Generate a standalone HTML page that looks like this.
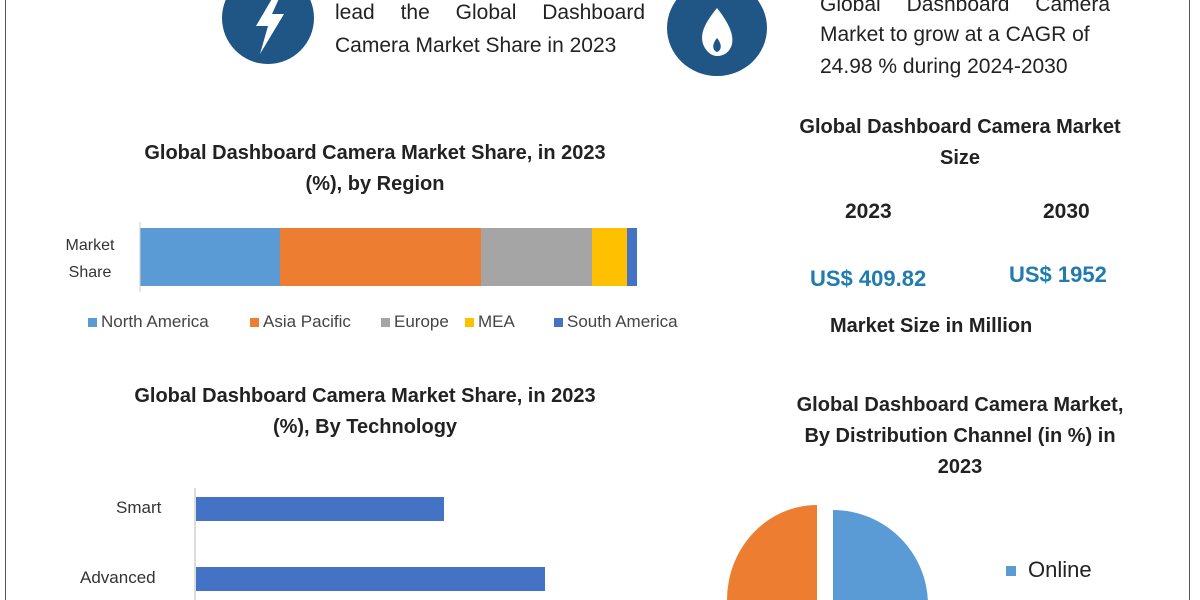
<!DOCTYPE html>
<html><head><style>
body{margin:0;width:1200px;height:600px;background:#fff;overflow:hidden;position:relative;font-family:"Liberation Sans",sans-serif;}
.a{position:absolute;white-space:nowrap;}
.t{font-weight:bold;font-size:20px;color:#222;text-align:center;line-height:31px;}
.n{font-family:"Liberation Sans Narrow","Liberation Sans",sans-serif;font-size:21px;color:#222;}
</style></head><body>
<div class="a" style="left:5px;top:0;width:1px;height:600px;background:#555"></div>
<div class="a" style="left:1189px;top:0;width:1px;height:600px;background:#555"></div>
<svg class="a" style="left:0;top:0" width="1200" height="600">
<ellipse cx="268" cy="18" rx="46" ry="46" fill="#1f5686"/>
<path d="M276 -8 L256 26 L268 26 L260 54 L284 14 L272 14 L282 -8Z" fill="#fff"/>
<ellipse cx="717" cy="28" rx="50" ry="48" fill="#1f5686"/>
<path d="M717 8 C704 24 700 34 703 44 C706 52 712 56 717 56 C724 56 730 52 732 44 C734 34 728 22 717 8Z" fill="#fff"/>
<path d="M717 38 C712 44 712 50 717 52 C722 50 722 44 717 38Z" fill="#1f5686"/>
<rect x="140" y="228" width="140" height="58" fill="#5b9bd5"/>
<rect x="280" y="228" width="201" height="58" fill="#ed7d31"/>
<rect x="481" y="228" width="111" height="58" fill="#a5a5a5"/>
<rect x="592" y="228" width="35" height="58" fill="#ffc000"/>
<rect x="627" y="228" width="10" height="58" fill="#4472c4"/>
<line x1="140" y1="222" x2="140" y2="292" stroke="#ccc"/>
<rect x="88" y="318" width="9" height="9" fill="#5b9bd5"/>
<rect x="250" y="318" width="9" height="9" fill="#ed7d31"/>
<rect x="381" y="318" width="9" height="9" fill="#a5a5a5"/>
<rect x="465" y="318" width="9" height="9" fill="#ffc000"/>
<rect x="554" y="318" width="9" height="9" fill="#4472c4"/>
<line x1="195" y1="488" x2="195" y2="600" stroke="#bbb"/>
<rect x="196" y="497" width="248" height="24" fill="#4472c4"/>
<rect x="196" y="567" width="349" height="24" fill="#4472c4"/>
<path d="M833 605 L833 510 A95 95 0 0 1 928 605 Z" fill="#5b9bd5"/>
<path d="M817 600 L817 505 A90 95 0 0 0 727 600 Z" fill="#ed7d31"/>
<rect x="1006" y="566" width="10" height="10" fill="#5b9bd5"/>
</svg>
<div class="a n" style="left:335px;top:1px;width:310px;text-align:justify;text-align-last:justify">lead the Global Dashboard</div>
<div class="a n" style="left:335px;top:34px">Camera Market Share in 2023</div>
<div class="a n" style="left:820px;top:-7px;width:290px;text-align:justify;text-align-last:justify">Global Dashboard Camera</div>
<div class="a n" style="left:820px;top:23px">Market to grow at a CAGR of</div>
<div class="a n" style="left:820px;top:55px">24.98 % during 2024-2030</div>
<div class="a t" style="left:100px;top:138px;width:550px">Global Dashboard Camera Market Share, in 2023<br>(%), by Region</div>
<div class="a" style="left:50px;top:232px;width:80px;text-align:center;font-size:16px;line-height:27px;color:#333">Market<br>Share</div>
<div class="a" style="left:101px;top:312px;font-size:17px;color:#444">North America</div>
<div class="a" style="left:263px;top:312px;font-size:17px;color:#444">Asia Pacific</div>
<div class="a" style="left:394px;top:312px;font-size:17px;color:#444">Europe</div>
<div class="a" style="left:478px;top:312px;font-size:17px;color:#444">MEA</div>
<div class="a" style="left:567px;top:312px;font-size:17px;color:#444">South America</div>
<div class="a t" style="left:740px;top:112px;width:440px">Global Dashboard Camera Market<br>Size</div>
<div class="a t" style="left:845px;top:196px;font-size:21px">2023</div>
<div class="a t" style="left:1043px;top:196px;font-size:21px">2030</div>
<div class="a" style="left:810px;top:266px;font-size:22px;font-weight:bold;color:#1f7bb0">US$ 409.82</div>
<div class="a" style="left:1009px;top:262px;font-size:22px;font-weight:bold;color:#1f7bb0">US$ 1952</div>
<div class="a t" style="left:830px;top:311px;font-size:20px">Market Size in Million</div>
<div class="a t" style="left:90px;top:381px;width:550px">Global Dashboard Camera Market Share, in 2023<br>(%), By Technology</div>
<div class="a" style="left:116px;top:498px;font-size:17px;color:#333">Smart</div>
<div class="a" style="left:80px;top:568px;font-size:17px;color:#333">Advanced</div>
<div class="a t" style="left:740px;top:390px;width:440px">Global Dashboard Camera Market,<br>By Distribution Channel (in %) in<br>2023</div>
<div class="a" style="left:1028px;top:557px;font-size:22px;color:#222">Online</div>
</body></html>
